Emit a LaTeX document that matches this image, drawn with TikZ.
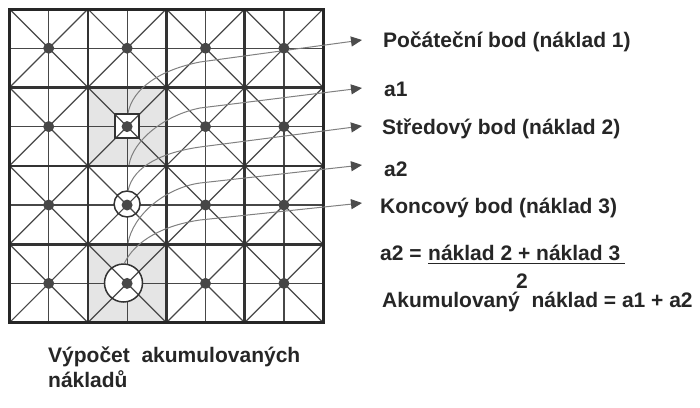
\documentclass[tikz,border=0pt]{standalone}
\usepackage{fontspec}
\setmainfont{Liberation Sans}
\usetikzlibrary{positioning,arrows.meta}
\definecolor{mygray}{rgb}{.28,.28,.28}
\definecolor{shadegray}{rgb}{.9,.9,.9}
\definecolor{leadgray}{rgb}{.5,.5,.5}

\tikzset{
  thin line/.style = {mygray, line width=1.2pt},
  cell line/.style = {black!80, line width=2.6pt},
  leader/.style = {leadgray, line width=1pt, -{Triangle[length=11pt,width=10pt,color=black!70]}},
  lab/.style = {font=\bfseries\fontsize{21}{24}\selectfont, text=black!85, inner sep=0pt, anchor=base west},
}

\begin{document}
\begin{tikzpicture}[x=1pt, y=-1pt]
\useasboundingbox (0,0) rectangle (700,407);
\fill[white] (0,0) rectangle (700,407);

%%%%%%%%%%%%%%% grid %%%%%%%%%%%%%%%%
\begin{scope}[shift={(9.5,9)}]
\fill[shadegray] (78.4,78.4) rectangle (156.8,156.8);
\fill[shadegray] (78.4,235.2) rectangle (156.8,313.6);
\foreach \k in {0,...,3} {
	\draw[thin line] (0,39.2+78.4*\k) -- (313.6,39.2+78.4*\k);
	\draw[thin line] (39.2+78.4*\k,0) -- (39.2+78.4*\k,313.6);
}
% white inside the marks
\fill[white] (105.6,104.6) rectangle (129.6,128.6);
\fill[white] (117.6,195) circle [radius=13];
\fill[white] (114,274) circle [radius=19];
\foreach \i in {0,...,3}
	\foreach \j in {0,...,3}
		\draw[thin line] (78.4*\i,78.4*\j) -- ++(78.4,78.4)
			(78.4*\i+78.4,78.4*\j) -- ++(-78.4,78.4);
\foreach \k in {1,2,3} {
	\draw[cell line] (0,78.4*\k) -- (313.6,78.4*\k);
	\draw[cell line] (78.4*\k,0) -- (78.4*\k,313.6);
}
\draw[black!85, line width=3pt] (0,0) rectangle (313.6,313.6);
% start, middle and end marks
\draw[black!80, line width=1.8pt] (105.6,104.6) rectangle (129.6,128.6);
\draw[black!80, line width=1.5pt] (117.6,195) circle [radius=13];
\draw[black!80, line width=1.5pt] (114,274) circle [radius=19];
\end{scope}

%%%%%%%%%%%%%%% labels %%%%%%%%%%%%%%%%
\node[lab] (start) at (383,47) {Počáteční bod (náklad 1)};
\node[lab] (aone) at (384,96) {a1};
\node[lab] (middle) at (382,134) {Středový bod (náklad 2)};
\node[lab] (atwo) at (384,176) {a2};
\node[lab] (end) at (380,213) {Koncový bod (náklad 3)};
\node[lab] (eq) at (380,260) {a2 =};
\node[lab] (num) at (428,260) {náklad 2 + náklad 3};
\draw[black!85, line width=1.6pt] ([yshift=-3.5pt]num.base west) -- ([yshift=-3.5pt, xshift=5pt]num.base east);
\node[lab, anchor=base] (den) at (522,288) {2};
\node[lab] (sum) at (382,307) {Akumulovaný~ náklad = a1 + a2};
\node[lab] (title) at (48,362) {Výpočet~ akumulovaných};
\node[lab] (titletwo) at (48,387) {nákladů};

%%%%%%%%%%%%%%% leaders %%%%%%%%%%%%%%%%
\coordinate (p1) at (128,113);
\coordinate (p2) at (129,165);
\coordinate (p3) at (128,191);
\coordinate (p4) at (128,243);
\coordinate (p5) at (124,264);
\coordinate (q1) at (362,40);
\coordinate (q2) at (362,88);
\coordinate (q3) at (362,126);
\coordinate (q4) at (362,165);
\coordinate (q5) at (362,203);
\draw[leader] (p1) .. controls (133,88) and (160,70) .. (200,62) -- (q1);
\draw[leader] (p2) .. controls (133,140) and (165,115) .. (200,108) -- (q2);
\draw[leader] (p3) .. controls (133,165) and (165,152) .. (200,147) -- (q3);
\draw[leader] (p4) .. controls (133,215) and (165,188) .. (200,183) -- (q4);
\draw[leader] (p5) .. controls (135,240) and (165,225) .. (200,220) -- (q5);

%%%%%%%%%%%%%%% dots %%%%%%%%%%%%%%%%
\foreach \i in {0,...,3}
	\foreach \j in {0,...,3}
		\fill[mygray] (48.7+78.4*\i,48.2+78.4*\j) circle [radius=5.5];

\end{tikzpicture}
\end{document}
